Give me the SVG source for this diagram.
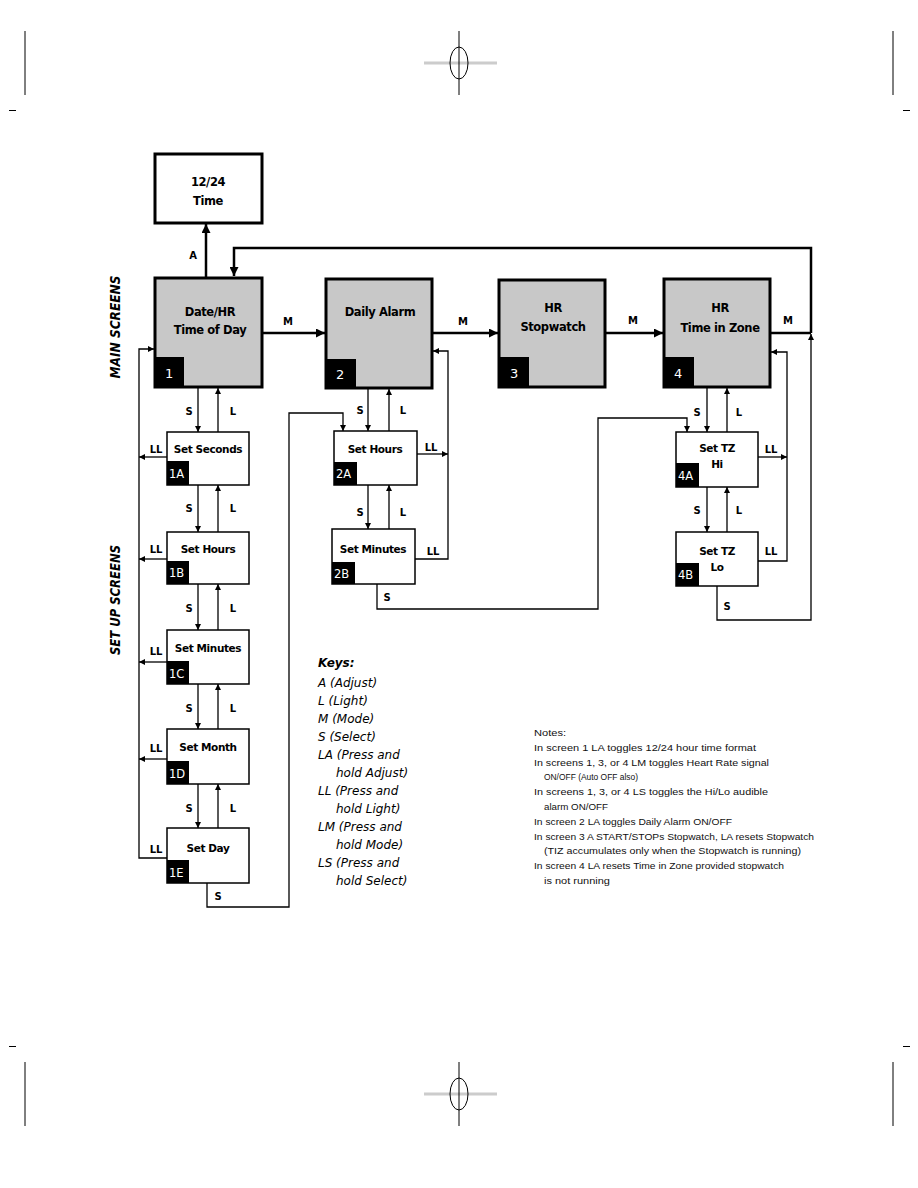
<svg xmlns="http://www.w3.org/2000/svg" width="918" height="1188" viewBox="0 0 918 1188">
<style>
.main{fill:#c8c8c8;stroke:#000;stroke-width:3}
.top{fill:#fff;stroke:#000;stroke-width:3}
.sub{fill:#fff;stroke:#000;stroke-width:1.5}
.badge{fill:#000}
.bt{fill:#fff;font-family:"DejaVu Sans",sans-serif;font-size:13px}
.bts{fill:#fff;font-family:"DejaVu Sans",sans-serif;font-size:11.5px}
.mt{font-family:"DejaVu Sans",sans-serif;font-weight:bold;font-size:11.5px;text-anchor:middle;letter-spacing:-0.4px}
.st{font-family:"DejaVu Sans",sans-serif;font-weight:bold;font-size:10.5px;text-anchor:middle;letter-spacing:-0.4px}
.lb{font-family:"DejaVu Sans",sans-serif;font-weight:bold;font-size:10px;text-anchor:middle;dominant-baseline:central}
.thick{fill:none;stroke:#000;stroke-width:2.5}
.thin{fill:none;stroke:#000;stroke-width:1.3}
.key{font-family:"DejaVu Sans",sans-serif;font-style:oblique;font-size:12px}
.note{font-family:"Liberation Sans",sans-serif;font-size:9px;fill:#111}
.side{font-family:"DejaVu Sans",sans-serif;font-style:oblique;font-weight:bold;font-size:14px;text-anchor:middle}
.crop{stroke:#000;stroke-width:1;fill:none}
</style>
<defs>
<marker id="ah" viewBox="0 0 10 10" refX="10" refY="5" markerWidth="10" markerHeight="9" markerUnits="userSpaceOnUse" orient="auto"><path d="M0,0 L10,5 L0,10 z" fill="#000"/></marker>
<marker id="as" viewBox="0 0 10 10" refX="10" refY="5" markerWidth="6" markerHeight="6" markerUnits="userSpaceOnUse" orient="auto"><path d="M0,0 L10,5 L0,10 z" fill="#000"/></marker>
</defs>

<g id="cropmarks">
<line class="crop" x1="25" y1="31" x2="25" y2="95"/>
<line class="crop" x1="893" y1="31" x2="893" y2="95"/>
<line class="crop" x1="9" y1="110.5" x2="16" y2="110.5" stroke-width="2"/>
<line class="crop" x1="903" y1="110.5" x2="910" y2="110.5" stroke-width="2"/>
<line x1="424" y1="63" x2="497" y2="63" stroke="#ccc" stroke-width="3"/>
<line class="crop" x1="459" y1="31" x2="459" y2="95" stroke-width="0.6"/>
<ellipse class="crop" cx="459" cy="63" rx="9" ry="16"/>
<line class="crop" x1="25" y1="1062" x2="25" y2="1126"/>
<line class="crop" x1="893" y1="1062" x2="893" y2="1126"/>
<line class="crop" x1="9" y1="1046.5" x2="16" y2="1046.5" stroke-width="2"/>
<line class="crop" x1="903" y1="1046.5" x2="910" y2="1046.5" stroke-width="2"/>
<line x1="424" y1="1094" x2="497" y2="1094" stroke="#ccc" stroke-width="3"/>
<line class="crop" x1="459" y1="1062" x2="459" y2="1126" stroke-width="0.6"/>
<ellipse class="crop" cx="459" cy="1094" rx="9" ry="16"/>
</g>

<g id="side-labels">
<text class="side" transform="translate(120,327) rotate(-90)" textLength="103" lengthAdjust="spacingAndGlyphs">MAIN SCREENS</text>
<text class="side" transform="translate(120,600) rotate(-90)" textLength="110" lengthAdjust="spacingAndGlyphs">SET UP SCREENS</text>
</g>

<g id="connectors">
<line class="thick" x1="206" y1="277" x2="206" y2="224" marker-end="url(#ah)"/>
<path class="thick" d="M811,333 V248 H234 V276" marker-end="url(#ah)"/>
<line class="thick" x1="262" y1="333" x2="325" y2="333" marker-end="url(#ah)"/>
<line class="thick" x1="432" y1="333" x2="498" y2="333" marker-end="url(#ah)"/>
<line class="thick" x1="605" y1="333" x2="663" y2="333" marker-end="url(#ah)"/>
<line class="thick" x1="770" y1="333" x2="811" y2="333"/>
<path class="thin" d="M167,858 H139 V349 H154" marker-end="url(#as)"/>
<line class="thin" x1="167" y1="457" x2="139" y2="457" marker-end="url(#as)"/>
<line class="thin" x1="167" y1="559" x2="139" y2="559" marker-end="url(#as)"/>
<line class="thin" x1="167" y1="662" x2="139" y2="662" marker-end="url(#as)"/>
<line class="thin" x1="167" y1="759" x2="139" y2="759" marker-end="url(#as)"/>
<line class="thin" x1="198" y1="388" x2="198" y2="432" marker-end="url(#as)"/>
<line class="thin" x1="218" y1="432" x2="218" y2="388" marker-end="url(#as)"/>
<line class="thin" x1="198" y1="485" x2="198" y2="532" marker-end="url(#as)"/>
<line class="thin" x1="218" y1="532" x2="218" y2="485" marker-end="url(#as)"/>
<line class="thin" x1="198" y1="584" x2="198" y2="630" marker-end="url(#as)"/>
<line class="thin" x1="218" y1="630" x2="218" y2="584" marker-end="url(#as)"/>
<line class="thin" x1="198" y1="684" x2="198" y2="729" marker-end="url(#as)"/>
<line class="thin" x1="218" y1="729" x2="218" y2="684" marker-end="url(#as)"/>
<line class="thin" x1="198" y1="784" x2="198" y2="828" marker-end="url(#as)"/>
<line class="thin" x1="218" y1="828" x2="218" y2="784" marker-end="url(#as)"/>
<path class="thin" d="M207,883 V907 H289 V413 H343 V431" marker-end="url(#as)"/>
<line class="thin" x1="368" y1="389" x2="368" y2="431" marker-end="url(#as)"/>
<line class="thin" x1="389" y1="431" x2="389" y2="389" marker-end="url(#as)"/>
<line class="thin" x1="368" y1="485" x2="368" y2="529" marker-end="url(#as)"/>
<line class="thin" x1="389" y1="529" x2="389" y2="485" marker-end="url(#as)"/>
<path class="thin" d="M415,559 H448 V351 H433" marker-end="url(#as)"/>
<line class="thin" x1="417" y1="454" x2="448" y2="454" marker-end="url(#as)"/>
<path class="thin" d="M377,584 V609 H598 V418 H687 V432" marker-end="url(#as)"/>
<line class="thin" x1="707" y1="388" x2="707" y2="432" marker-end="url(#as)"/>
<line class="thin" x1="727" y1="432" x2="727" y2="388" marker-end="url(#as)"/>
<line class="thin" x1="707" y1="487" x2="707" y2="532" marker-end="url(#as)"/>
<line class="thin" x1="727" y1="532" x2="727" y2="487" marker-end="url(#as)"/>
<path class="thin" d="M758,561 H787 V352 H771" marker-end="url(#as)"/>
<line class="thin" x1="758" y1="457" x2="787" y2="457" marker-end="url(#as)"/>
<path class="thin" d="M717,586 V620 H811 V334" marker-end="url(#as)"/>
</g>

<g id="connector-labels">
<text class="lb" x="193" y="255">A</text>
<text class="lb" x="288" y="321">M</text>
<text class="lb" x="463" y="321">M</text>
<text class="lb" x="633" y="320">M</text>
<text class="lb" x="788" y="320">M</text>
<text class="lb" x="189" y="411">S</text><text class="lb" x="233" y="411">L</text>
<text class="lb" x="189" y="508">S</text><text class="lb" x="233" y="508">L</text>
<text class="lb" x="189" y="608">S</text><text class="lb" x="233" y="608">L</text>
<text class="lb" x="189" y="708">S</text><text class="lb" x="233" y="708">L</text>
<text class="lb" x="189" y="808">S</text><text class="lb" x="233" y="808">L</text>
<text class="lb" x="156" y="449">LL</text>
<text class="lb" x="156" y="549">LL</text>
<text class="lb" x="156" y="651">LL</text>
<text class="lb" x="156" y="748">LL</text>
<text class="lb" x="156" y="849">LL</text>
<text class="lb" x="218" y="896">S</text>
<text class="lb" x="360" y="410">S</text><text class="lb" x="403" y="410">L</text>
<text class="lb" x="360" y="512">S</text><text class="lb" x="403" y="512">L</text>
<text class="lb" x="431" y="447">LL</text>
<text class="lb" x="433" y="551">LL</text>
<text class="lb" x="387" y="597">S</text>
<text class="lb" x="697" y="412">S</text><text class="lb" x="739" y="412">L</text>
<text class="lb" x="697" y="510">S</text><text class="lb" x="739" y="510">L</text>
<text class="lb" x="771" y="449">LL</text>
<text class="lb" x="771" y="551">LL</text>
<text class="lb" x="727" y="606">S</text>
</g>

<g id="n-1224">
<rect class="top" x="155" y="154" width="107" height="69"/>
<text class="mt" x="208" y="186">12/24</text>
<text class="mt" x="208" y="205">Time</text>
</g>
<g id="n-1">
<rect class="main" x="155" y="278" width="107" height="109"/>
<rect class="badge" x="155" y="357" width="29" height="30"/>
<text class="bt" x="165" y="378">1</text>
<text class="mt" x="210" y="316">Date/HR</text>
<text class="mt" x="210" y="334">Time of Day</text>
</g>
<g id="n-2">
<rect class="main" x="326" y="279" width="106" height="109"/>
<rect class="badge" x="326" y="359" width="30" height="29"/>
<text class="bt" x="336" y="379">2</text>
<text class="mt" x="380" y="316">Daily Alarm</text>
</g>
<g id="n-3">
<rect class="main" x="499" y="280" width="106" height="107"/>
<rect class="badge" x="499" y="357" width="30" height="30"/>
<text class="bt" x="510" y="378">3</text>
<text class="mt" x="553" y="312">HR</text>
<text class="mt" x="553" y="331">Stopwatch</text>
</g>
<g id="n-4">
<rect class="main" x="664" y="279" width="106" height="108"/>
<rect class="badge" x="664" y="357" width="30" height="30"/>
<text class="bt" x="674" y="378">4</text>
<text class="mt" x="720" y="312">HR</text>
<text class="mt" x="720" y="332">Time in Zone</text>
</g>

<g id="n-1A">
<rect class="sub" x="167" y="432" width="82" height="53"/>
<rect class="badge" x="167" y="461" width="22" height="24"/>
<text class="bts" x="169" y="478">1A</text>
<text class="st" x="208" y="453">Set Seconds</text>
</g>
<g id="n-1B">
<rect class="sub" x="167" y="532" width="82" height="52"/>
<rect class="badge" x="167" y="561" width="22" height="23"/>
<text class="bts" x="169" y="577">1B</text>
<text class="st" x="208" y="553">Set Hours</text>
</g>
<g id="n-1C">
<rect class="sub" x="167" y="630" width="82" height="54"/>
<rect class="badge" x="167" y="661" width="22" height="23"/>
<text class="bts" x="169" y="678">1C</text>
<text class="st" x="208" y="652">Set Minutes</text>
</g>
<g id="n-1D">
<rect class="sub" x="167" y="729" width="82" height="55"/>
<rect class="badge" x="167" y="761" width="22" height="23"/>
<text class="bts" x="169" y="778">1D</text>
<text class="st" x="208" y="751">Set Month</text>
</g>
<g id="n-1E">
<rect class="sub" x="167" y="828" width="82" height="55"/>
<rect class="badge" x="167" y="860" width="22" height="23"/>
<text class="bts" x="169" y="877">1E</text>
<text class="st" x="208" y="852">Set Day</text>
</g>
<g id="n-2A">
<rect class="sub" x="334" y="431" width="83" height="54"/>
<rect class="badge" x="334" y="462" width="23" height="23"/>
<text class="bts" x="336" y="478">2A</text>
<text class="st" x="375" y="453">Set Hours</text>
</g>
<g id="n-2B">
<rect class="sub" x="332" y="529" width="83" height="55"/>
<rect class="badge" x="332" y="562" width="23" height="22"/>
<text class="bts" x="334" y="578">2B</text>
<text class="st" x="373" y="553">Set Minutes</text>
</g>
<g id="n-4A">
<rect class="sub" x="676" y="432" width="82" height="55"/>
<rect class="badge" x="676" y="463" width="23" height="24"/>
<text class="bts" x="678" y="480">4A</text>
<text class="st" x="717" y="452">Set TZ</text>
<text class="st" x="717" y="468">Hi</text>
</g>
<g id="n-4B">
<rect class="sub" x="676" y="532" width="82" height="54"/>
<rect class="badge" x="676" y="563" width="23" height="23"/>
<text class="bts" x="678" y="579">4B</text>
<text class="st" x="717" y="555">Set TZ</text>
<text class="st" x="717" y="571">Lo</text>
</g>

<g id="keys">
<text class="key" x="318" y="667" font-weight="bold">Keys:</text>
<text class="key" x="318" y="687">A (Adjust)</text>
<text class="key" x="318" y="705">L (Light)</text>
<text class="key" x="318" y="723">M (Mode)</text>
<text class="key" x="318" y="741">S (Select)</text>
<text class="key" x="318" y="759">LA (Press and</text>
<text class="key" x="336" y="777">hold Adjust)</text>
<text class="key" x="318" y="795">LL (Press and</text>
<text class="key" x="336" y="813">hold Light)</text>
<text class="key" x="318" y="831">LM (Press and</text>
<text class="key" x="336" y="849">hold Mode)</text>
<text class="key" x="318" y="867">LS (Press and</text>
<text class="key" x="336" y="885">hold Select)</text>
</g>

<g id="notes">
<text class="note" x="534" y="736" textLength="32" lengthAdjust="spacingAndGlyphs">Notes:</text>
<text class="note" x="534" y="751" textLength="222" lengthAdjust="spacingAndGlyphs">In screen 1 LA toggles 12/24 hour time format</text>
<text class="note" x="534" y="766" textLength="235" lengthAdjust="spacingAndGlyphs">In screens 1, 3, or 4 LM toggles Heart Rate signal</text>
<text class="note" x="544" y="780" textLength="94" lengthAdjust="spacingAndGlyphs">ON/OFF (Auto OFF also)</text>
<text class="note" x="534" y="795" textLength="234" lengthAdjust="spacingAndGlyphs">In screens 1, 3, or 4 LS toggles the Hi/Lo audible</text>
<text class="note" x="544" y="810" textLength="64" lengthAdjust="spacingAndGlyphs">alarm ON/OFF</text>
<text class="note" x="534" y="825" textLength="198" lengthAdjust="spacingAndGlyphs">In screen 2 LA toggles Daily Alarm ON/OFF</text>
<text class="note" x="534" y="840" textLength="280" lengthAdjust="spacingAndGlyphs">In screen 3 A START/STOPs Stopwatch,  LA resets Stopwatch</text>
<text class="note" x="544" y="854" textLength="257" lengthAdjust="spacingAndGlyphs">(TIZ accumulates only when the Stopwatch is running)</text>
<text class="note" x="534" y="869" textLength="250" lengthAdjust="spacingAndGlyphs">In screen 4 LA resets Time in Zone provided stopwatch</text>
<text class="note" x="544" y="884" textLength="66" lengthAdjust="spacingAndGlyphs">is not running</text>
</g>
</svg>
